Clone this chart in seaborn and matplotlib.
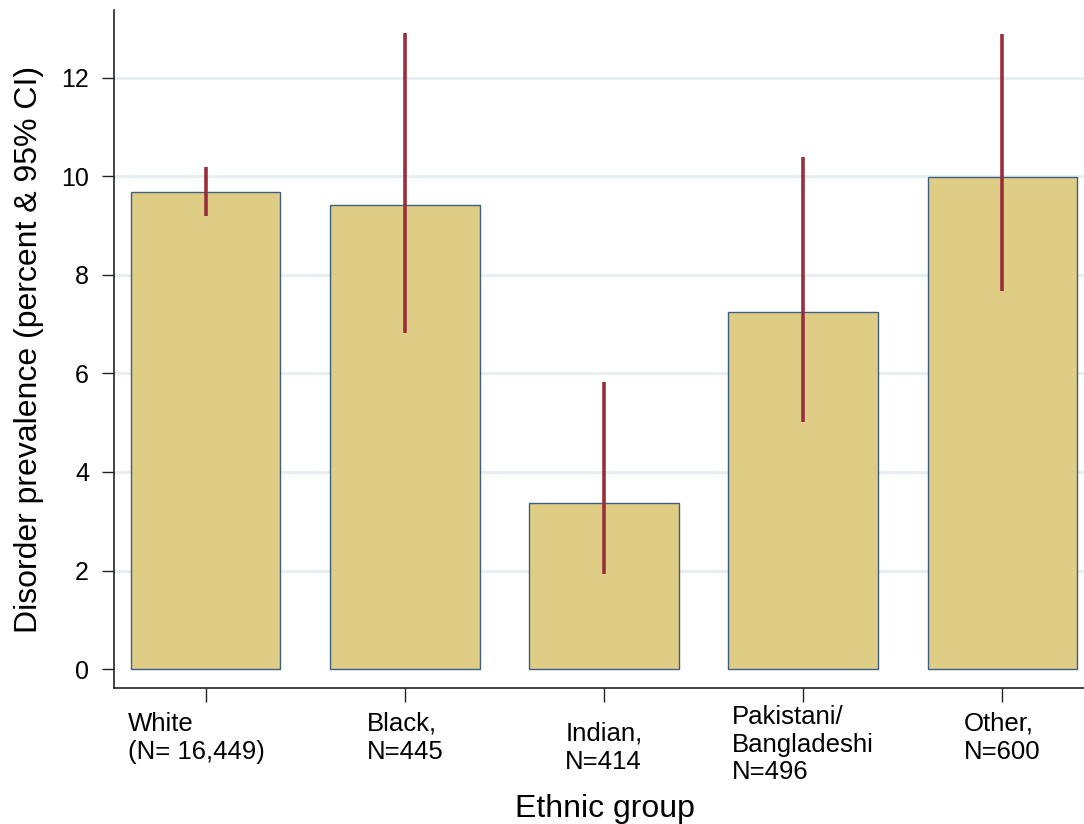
import numpy as np
import pandas as pd
import matplotlib
matplotlib.use('Agg')
import matplotlib.pyplot as plt
import matplotlib.transforms as mtransforms
import seaborn as sns

# Data
groups = ['White\n(N= 16,449)', 'Black,\nN=445', 'Indian,\nN=414',
          'Pakistani/\nBangladeshi\nN=496', 'Other,\nN=600']
prevalence = [9.69, 9.43, 3.37, 7.25, 9.99]
ci_low = [9.20, 6.82, 1.93, 5.02, 7.68]
ci_high = [10.19, 12.92, 5.83, 10.40, 12.90]
y_ticks = [0, 2, 4, 6, 8, 10, 12]

# per-label nudges (pixels) to mimic the original placement
label_dx = [-9, 0, 0, 0, 0]
label_dy = [0, 0, 10, -7, 0]

sns.set_style('white')
plt.rcParams['font.family'] = ['Liberation Sans', 'DejaVu Sans']
plt.rcParams['text.color'] = 'black'

df = pd.DataFrame({'group': groups, 'prevalence': prevalence})

fig = plt.figure(figsize=(10.84, 8.24), dpi=100)
ax = fig.add_axes([0.1052, 0.165, 0.8948, 0.8229])

for y in y_ticks[1:]:
    ax.axhline(y, color='#E6EEF0', lw=2, zorder=0)

sns.barplot(data=df, x='group', y='prevalence', color='#E0CD85', saturation=1,
            width=0.75, edgecolor='#3E5E82', linewidth=1, ax=ax, zorder=2)

xpos = np.arange(len(groups))
ax.vlines(xpos, ci_low, ci_high, color='#992F3B', lw=2.6, zorder=3)

ax.set_xlim(-0.46, len(groups) - 1 + 0.41)
ax.set_ylim(-0.386, 13.38)
ax.set_yticks(y_ticks)
ax.tick_params(axis='y', left=True, labelsize=18, length=9, width=1,
               color='#222222', labelcolor='black', pad=9)
ax.tick_params(axis='x', bottom=True, length=10, width=1, color='#222222')
ax.set_xticks(xpos)
ax.set_xticklabels([])

trans = mtransforms.blended_transform_factory(ax.transData, ax.transAxes)
for i, lab in enumerate(groups):
    off = mtransforms.ScaledTranslation(label_dx[i] / 100, -label_dy[i] / 100,
                                        fig.dpi_scale_trans)
    ax.text(i, -0.035, lab, transform=trans + off, ha='center', va='top',
            multialignment='left', fontsize=18.5, linespacing=1.2, color='black')

for s in ['top', 'right']:
    ax.spines[s].set_visible(False)
for s in ['left', 'bottom']:
    ax.spines[s].set_color('#222222')
    ax.spines[s].set_linewidth(1.2)

ax.set_ylabel('Disorder prevalence (percent & 95% CI)', fontsize=23,
              labelpad=12, color='black')
ax.set_xlabel('')
fig.text(0.5577, 0.009, 'Ethnic group', ha='center', va='baseline', fontsize=23,
         color='black')

fig.savefig('out.png', dpi=100)
